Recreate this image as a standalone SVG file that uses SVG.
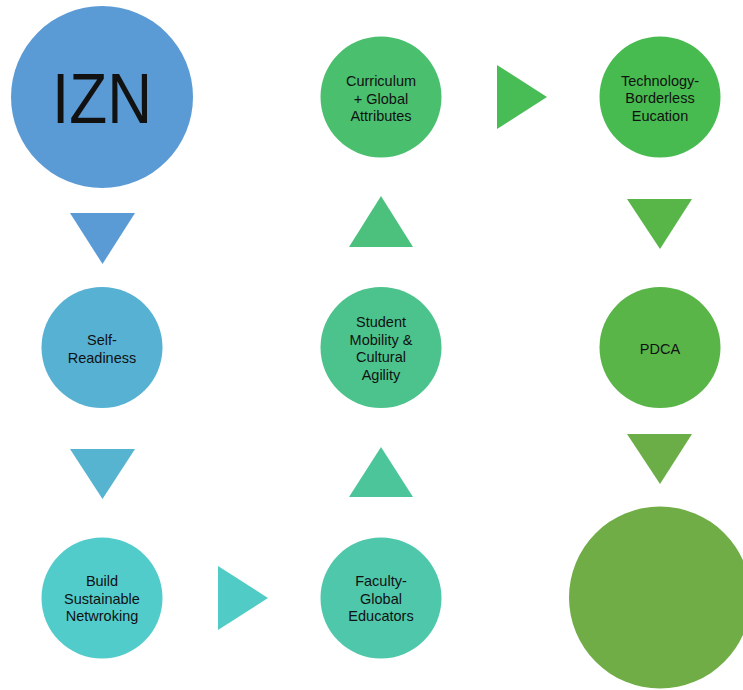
<svg xmlns="http://www.w3.org/2000/svg" width="743" height="690" viewBox="0 0 743 690">
<style>
text{font-family:"Liberation Sans",Arial,sans-serif;fill:#111;text-anchor:middle;font-size:14.5px}
.big{font-size:70px}
</style>
<rect width="743" height="690" fill="#fff"/>
<g id="connectors">
<polygon points="70,213 135,213 102.5,264" fill="#5B9BD5"/>
<polygon points="70,449 135,449 102.5,499" fill="#56B4D1"/>
<polygon points="218,566 218,630 268,598" fill="#51CBC6"/>
<polygon points="349,497 413,497 381,447" fill="#4DC59B"/>
<polygon points="349,247 413,247 381,196" fill="#4BC17D"/>
<polygon points="497,65 497,129 547,97" fill="#48BC55"/>
<polygon points="627,199 692,199 660,249" fill="#58B548"/>
<polygon points="627,434 692,434 660,484" fill="#6BAE47"/>
</g>
<g id="izn"><circle cx="102" cy="97" r="91" fill="#5B9BD5"/><text class="big" x="102" y="123" textLength="100" lengthAdjust="spacingAndGlyphs">IZN</text></g>
<g id="self-readiness"><circle cx="102" cy="347.5" r="60.5" fill="#57B1D3"/><text x="102" y="345">Self-</text><text x="102" y="362.5">Readiness</text></g>
<g id="build"><circle cx="102" cy="598" r="60.5" fill="#52CCCB"/><text x="102" y="586">Build</text><text x="102" y="603.5">Sustainable</text><text x="102" y="621">Netwroking</text></g>
<g id="faculty"><circle cx="381" cy="598" r="60.5" fill="#4EC7AB"/><text x="381" y="586">Faculty-</text><text x="381" y="603.5">Global</text><text x="381" y="621">Educators</text></g>
<g id="student"><circle cx="381" cy="347.5" r="60.5" fill="#4CC38C"/><text x="381" y="327">Student</text><text x="381" y="344.5">Mobility &amp;</text><text x="381" y="362">Cultural</text><text x="381" y="379.5">Agility</text></g>
<g id="curriculum"><circle cx="381" cy="97" r="60.5" fill="#4ABF6E"/><text x="381" y="86">Curriculum</text><text x="381" y="103.5">+ Global</text><text x="381" y="121">Attributes</text></g>
<g id="technology"><circle cx="660" cy="97" r="60.5" fill="#47BB4F"/><text x="660" y="85.5">Technology-</text><text x="660" y="103">Borderless</text><text x="660" y="120.5">Eucation</text></g>
<g id="pdca"><circle cx="660" cy="347.5" r="60.5" fill="#5AB548"/><text x="660" y="353.5">PDCA</text></g>
<g id="final"><circle cx="660" cy="597.5" r="91" fill="#70AD47"/></g>
</svg>
